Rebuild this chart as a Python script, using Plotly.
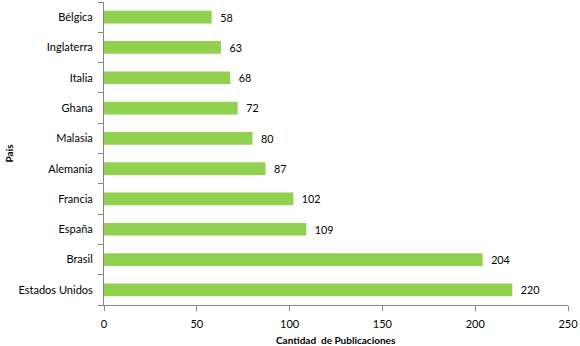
import plotly.graph_objects as go

paises = ["Estados Unidos", "Brasil", "España", "Francia", "Alemania",
          "Malasia", "Ghana", "Italia", "Inglaterra", "Bélgica"]
publicaciones = [220, 204, 109, 102, 87, 80, 72, 68, 63, 58]
x_ticks = [0, 50, 100, 150, 200, 250]

FONT = "Lato, Open Sans, sans-serif"

fig = go.Figure(go.Bar(
    y=paises, x=publicaciones, orientation="h",
    marker=dict(color="#92D050", line=dict(width=0)),
    texttemplate="\u00a0\u00a0%{x}", textposition="outside",
    textfont=dict(family=FONT, size=11, color="#000000"),
    cliponaxis=False,
))

fig.update_layout(
    width=580, height=346,
    margin=dict(l=104, r=9, t=2, b=41),
    paper_bgcolor="white", plot_bgcolor="white",
    bargap=0.58, showlegend=False,
    font=dict(family=FONT, size=11, color="#000000"),
)
fig.update_xaxes(
    range=[0, 250], tickvals=x_ticks, showgrid=False, zeroline=False,
    showline=True, linecolor="#868686", linewidth=1,
    ticks="outside", ticklen=5, tickcolor="#868686", ticklabelstandoff=4,
    ticklabeloverflow="allow",
    tickfont=dict(family=FONT, size=11, color="#000000"),
)
fig.update_yaxes(
    type="category", categoryorder="array", categoryarray=paises,
    showgrid=False, zeroline=False,
    showline=True, linecolor="#868686", linewidth=1,
    ticks="outside", ticklen=5, tickcolor="#868686", tickson="boundaries",
    ticklabelstandoff=8,
    tickfont=dict(family=FONT, size=11, color="#000000"),
)
fig.add_annotation(text="<b>Cantidad  de Publicaciones</b>", xref="paper", yref="paper",
                   x=0.5, y=0, yshift=-35, xanchor="center", yanchor="middle",
                   showarrow=False, font=dict(family=FONT, size=10, color="#000000"))
fig.add_annotation(text="<b>País</b>", xref="paper", yref="paper",
                   x=0, y=0.5, xshift=-96, xanchor="center", yanchor="middle",
                   textangle=-90, showarrow=False,
                   font=dict(family=FONT, size=10, color="#000000"))

fig.write_html("out.html", config={"displayModeBar": False},
               post_script="document.body.style.margin='0';document.body.style.padding='0';")
